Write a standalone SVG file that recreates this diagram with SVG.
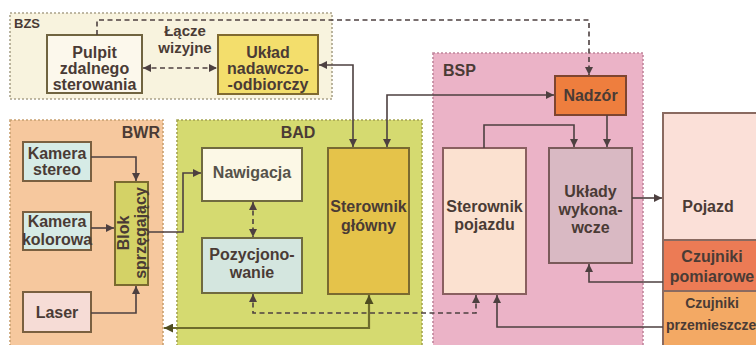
<svg xmlns="http://www.w3.org/2000/svg" width="756" height="345" viewBox="0 0 756 345">
<style>
text{font-family:"Liberation Sans",Arial,sans-serif;font-weight:bold;font-size:16px;fill:#4a3b35;text-anchor:middle}
.grp{stroke-width:1.6;stroke-dasharray:2 2}
.box{stroke-width:2}
.ln{fill:none;stroke:#4d4040;stroke-width:1.6}
.dash{stroke-dasharray:5 3.5}
.ol{stroke:#6e6c2c;stroke-width:2.2}
</style>
<defs>
<marker id="ah" viewBox="0 0 10 10" refX="10" refY="5" markerUnits="userSpaceOnUse" markerWidth="9" markerHeight="8" orient="auto-start-reverse"><path d="M0,0 L10,5 L0,10 z" fill="#4d4040"/></marker>
<marker id="ao" viewBox="0 0 10 10" refX="10" refY="5" markerUnits="userSpaceOnUse" markerWidth="10" markerHeight="9" orient="auto-start-reverse"><path d="M0,0 L10,5 L0,10 z" fill="#4e4c20"/></marker>
</defs>

<g id="BZS">
<rect class="grp" x="10" y="13" width="322" height="86" fill="#f8f3de" stroke="#aaa38a"/>
<text x="14" y="28" style="text-anchor:start;font-size:13px">BZS</text>
</g>
<g id="BWR">
<rect class="grp" x="10" y="120" width="153" height="230" fill="#f6c89e" stroke="#c8a070"/>
<text x="160" y="138" style="text-anchor:end">BWR</text>
</g>
<g id="BAD">
<rect class="grp" x="177" y="120" width="245" height="230" fill="#d5da70" stroke="#a4a450"/>
<text x="298" y="138">BAD</text>
</g>
<g id="BSP">
<rect class="grp" x="433" y="53" width="210" height="297" fill="#ebb3c7" stroke="#c0869c"/>
<text x="443" y="76" style="text-anchor:start">BSP</text>
</g>

<g id="lacze">
<text x="185" y="36" style="font-size:15px">Łącze</text>
<text x="185" y="53" style="font-size:15px">wizyjne</text>
</g>

<g id="pulpit">
<rect class="box" x="47" y="35" width="95" height="58" fill="#fcf8ec" stroke="#706440"/>
<text x="94.5" y="58">Pulpit</text>
<text x="94.5" y="74">zdalnego</text>
<text x="94.5" y="90">sterowania</text>
</g>
<g id="uklad">
<rect class="box" x="218" y="35" width="100" height="59" fill="#f3de6c" stroke="#806a30"/>
<text x="268" y="58">Układ</text>
<text x="268" y="74">nadawczo-</text>
<text x="268" y="90">-odbiorczy</text>
</g>

<g id="kamera-stereo">
<rect class="box" x="23" y="142" width="68" height="39" fill="#d6ebe6" stroke="#7a6040"/>
<text x="57" y="159">Kamera</text>
<text x="57" y="175">stereo</text>
</g>
<g id="kamera-kolorowa">
<rect class="box" x="23" y="212" width="68" height="38" fill="#d6ebe6" stroke="#7a6040"/>
<text x="57" y="227">Kamera</text>
<text x="57" y="245">kolorowa</text>
</g>
<g id="laser">
<rect class="box" x="23" y="292" width="68" height="40" fill="#f6dcd6" stroke="#7a6040"/>
<text x="57" y="318">Laser</text>
</g>
<g id="blok">
<rect class="box" x="115" y="182" width="33" height="103" fill="#d4d266" stroke="#7a6a30"/>
<g transform="rotate(-90 131 233)">
<text x="131" y="231">Blok</text>
<text x="131" y="248">sprzęgający</text>
</g>
</g>

<g id="nawigacja">
<rect class="box" x="202" y="148" width="100" height="53" fill="#fcf8e6" stroke="#706a40"/>
<text x="252" y="178" style="fill:#55524a">Nawigacja</text>
</g>
<g id="pozycjonowanie">
<rect class="box" x="202" y="238" width="100" height="55" fill="#d4e6df" stroke="#706a40"/>
<text x="252" y="260">Pozycjono-</text>
<text x="252" y="278">wanie</text>
</g>
<g id="sterownik-glowny">
<rect class="box" x="328" y="148" width="81" height="146" fill="#e5c34a" stroke="#7a6a30"/>
<text x="368.5" y="212">Sterownik</text>
<text x="368.5" y="231">główny</text>
</g>

<g id="nadzor">
<rect class="box" x="555" y="76" width="71" height="39" fill="#ee7e3e" stroke="#7e4530"/>
<text x="590.5" y="101">Nadzór</text>
</g>
<g id="sterownik-pojazdu">
<rect class="box" x="443" y="148" width="83" height="146" fill="#fbe1d0" stroke="#8a6060"/>
<text x="484.5" y="212">Sterownik</text>
<text x="484.5" y="230">pojazdu</text>
</g>
<g id="uklady">
<rect class="box" x="549" y="148" width="83" height="115" fill="#d9b9c3" stroke="#7a5a5a"/>
<text x="590.5" y="197">Układy</text>
<text x="590.5" y="215">wykona-</text>
<text x="590.5" y="233">wcze</text>
</g>

<g id="pojazd">
<rect class="box" x="663" y="113" width="100" height="127" fill="#fbe0d8" stroke="#8a6a60"/>
<text x="708" y="212">Pojazd</text>
</g>
<g id="czujniki-pomiarowe">
<rect class="box" x="663" y="240" width="100" height="51" fill="#ec7b55" stroke="#8a6a60"/>
<text x="712" y="262">Czujniki</text>
<text x="712" y="282">pomiarowe</text>
</g>
<g id="czujniki-przemieszczenia">
<rect class="box" x="663" y="291" width="100" height="60" fill="#f3a964" stroke="#8a6a60"/>
<text x="712" y="308" style="font-size:14px">Czujniki</text>
<text x="666" y="330" style="font-size:14px;text-anchor:start">przemieszczenia</text>
</g>

<g id="connectors">
<path class="ln dash" d="M143,68 H217" marker-start="url(#ah)" marker-end="url(#ah)"/>
<path class="ln dash" d="M97,35 V20 H589 V75" marker-end="url(#ah)"/>
<path class="ln" d="M319,65 H353 V147" marker-start="url(#ah)" marker-end="url(#ah)"/>
<path class="ln" d="M554,95 H387 V147" marker-start="url(#ah)" marker-end="url(#ah)"/>
<path class="ln" d="M91,157 H136 V181" marker-end="url(#ah)"/>
<path class="ln" d="M91,228 H114" marker-end="url(#ah)"/>
<path class="ln" d="M91,313 H136 V286" marker-end="url(#ah)"/>
<path class="ln" d="M148,232 H183 V173 H201" marker-end="url(#ah)"/>
<path class="ln dash" d="M253,202 V237" marker-start="url(#ah)" marker-end="url(#ah)"/>
<path class="ln dash" d="M253,294 V313 H476 V295" marker-start="url(#ah)" marker-end="url(#ah)"/>
<path class="ln ol" d="M369,295 V328 H164" marker-start="url(#ao)" marker-end="url(#ao)"/>
<path class="ln" d="M484,148 V125 H574 V147" marker-end="url(#ah)"/>
<path class="ln" d="M607,115 V147" marker-end="url(#ah)"/>
<path class="ln" d="M632,198 H662" marker-end="url(#ah)"/>
<path class="ln" d="M663,282 H589 V264" marker-end="url(#ah)"/>
<path class="ln" d="M663,327 H497 V295" marker-end="url(#ah)"/>
</g>
</svg>
